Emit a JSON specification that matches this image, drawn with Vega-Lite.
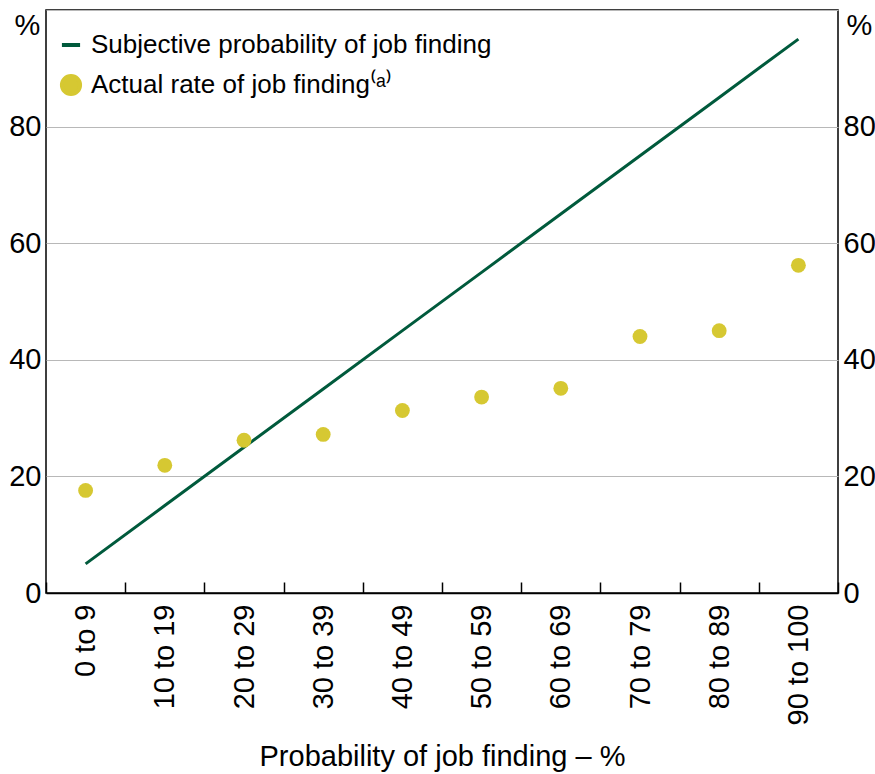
{
  "$schema": "https://vega.github.io/schema/vega-lite/v6.json",
  "width": 792,
  "height": 583,
  "autosize": {"type": "none"},
  "padding": {"left": 46, "top": 10, "right": 37, "bottom": 181},
  "background": "white",
  "config": {
    "font": "Liberation Sans",
    "view": {"stroke": "black", "strokeWidth": 1.5},
    "axis": {"labelFont": "Liberation Sans", "titleFont": "Liberation Sans", "labelColor": "black", "titleColor": "black", "titleFontWeight": "normal"}
  },
  "data": {
    "values": [
      {"bin": "0 to 9", "subjective": 5, "actual": 17.6},
      {"bin": "10 to 19", "subjective": 15, "actual": 21.9},
      {"bin": "20 to 29", "subjective": 25, "actual": 26.2},
      {"bin": "30 to 39", "subjective": 35, "actual": 27.2},
      {"bin": "40 to 49", "subjective": 45, "actual": 31.3},
      {"bin": "50 to 59", "subjective": 55, "actual": 33.6},
      {"bin": "60 to 69", "subjective": 65, "actual": 35.1},
      {"bin": "70 to 79", "subjective": 75, "actual": 44.0},
      {"bin": "80 to 89", "subjective": 85, "actual": 45.0},
      {"bin": "90 to 100", "subjective": 95, "actual": 56.2}
    ]
  },
  "encoding": {
    "x": {
      "field": "bin", "type": "ordinal", "sort": null,
      "scale": {"paddingInner": 0, "paddingOuter": 0},
      "axis": {
        "title": "Probability of job finding – %",
        "titleFontSize": 29, "titlePadding": 18,
        "labelAngle": -90, "labelFontSize": 29, "labelPadding": 22,
        "tickBand": "extent", "tickSize": -11, "tickColor": "black", "tickWidth": 1.5,
        "domainColor": "black", "domainWidth": 1.5, "grid": false
      }
    }
  },
  "layer": [
    {
      "mark": {"type": "line", "strokeWidth": 3},
      "encoding": {
        "y": {
          "field": "subjective", "type": "quantitative",
          "scale": {"domain": [0, 100], "nice": false},
          "axis": {
            "values": [0, 20, 40, 60, 80, 100],
            "labelExpr": "datum.value == 100 ? '' : datum.label",
            "labelFontSize": 29, "labelPadding": 5, "ticks": false,
            "domain": false, "gridColor": "#b8b8b8", "gridWidth": 1.2,
            "title": "%", "titleAngle": 0, "titleFontSize": 29,
            "titleX": -32, "titleY": 24, "titleAlign": "left", "titleBaseline": "alphabetic"
          }
        },
        "color": {
          "datum": "Subjective probability of job finding",
          "type": "nominal",
          "scale": {
            "domain": ["Subjective probability of job finding", "Actual rate of job finding⁽ᵃ⁾"],
            "range": ["#005a3c", "#d6c832"]
          },
          "legend": {
            "title": null, "orient": "none", "legendX": 12, "legendY": 22,
            "labelFontSize": 26, "labelColor": "black", "labelFont": "Liberation Sans",
            "labelLimit": 800,
            "symbolSize": 330, "rowPadding": 9, "labelOffset": 7,
            "symbolStrokeWidth": 4,
            "encode": {
              "symbols": {
                "update": {
                  "shape": {"signal": "datum.index == 0 ? 'stroke' : 'circle'"},
                  "fill": {"signal": "datum.index == 0 ? 'transparent' : '#d6c832'"},
                  "stroke": {"signal": "datum.index == 0 ? '#005a3c' : 'transparent'"}
                }
              }
            }
          }
        }
      }
    },
    {
      "mark": {"type": "circle", "size": 220, "opacity": 1},
      "encoding": {
        "y": {"field": "actual", "type": "quantitative", "axis": null},
        "color": {"datum": "Actual rate of job finding⁽ᵃ⁾", "type": "nominal"}
      }
    },
    {
      "mark": {"type": "rule", "opacity": 0},
      "encoding": {
        "y": {
          "field": "actual", "type": "quantitative",
          "axis": {
            "orient": "right",
            "values": [0, 20, 40, 60, 80, 100],
            "labelExpr": "datum.value == 100 ? '' : datum.label",
            "labelFontSize": 29, "labelPadding": 5, "ticks": false,
            "domain": false, "grid": false,
            "title": "%", "titleAngle": 0, "titleFontSize": 29,
            "titleX": 8, "titleY": 24, "titleAlign": "left", "titleBaseline": "alphabetic"
          }
        }
      }
    }
  ],
  "resolve": {"scale": {"y": "shared"}, "axis": {"y": "independent"}}
}
